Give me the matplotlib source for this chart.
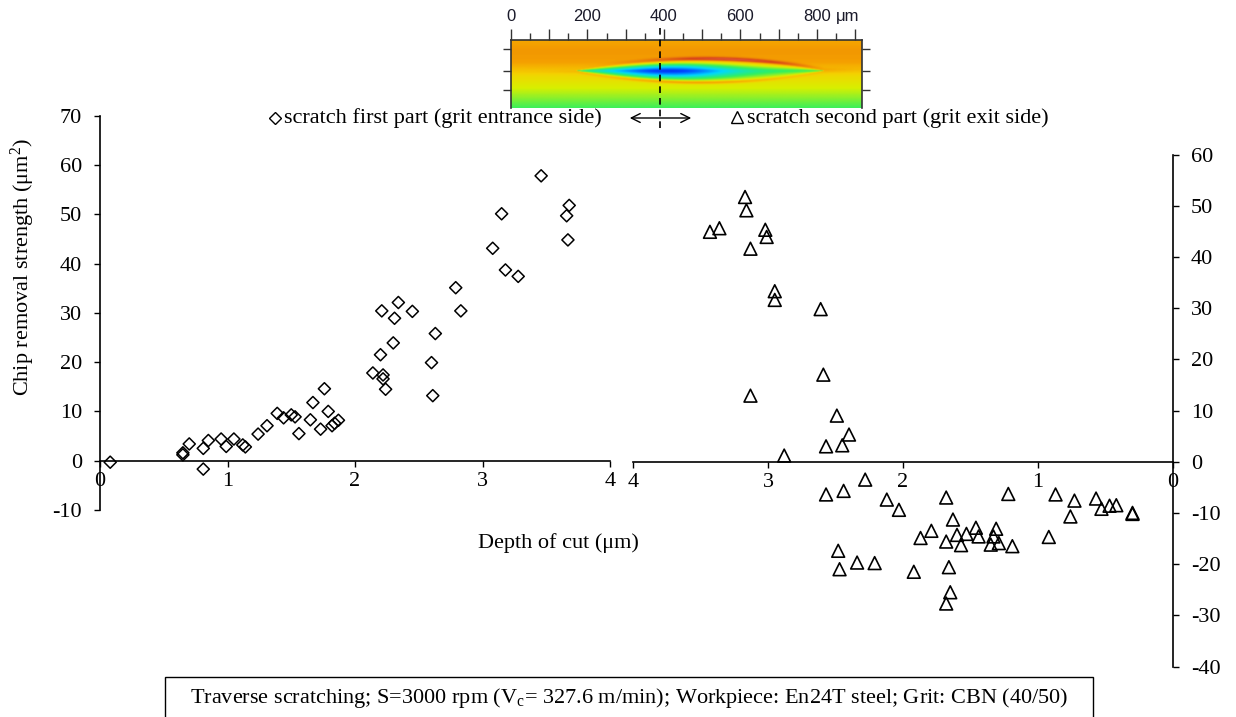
import numpy as np
import matplotlib
matplotlib.use("Agg")
import matplotlib.pyplot as plt
from matplotlib.lines import Line2D
from matplotlib.patches import Rectangle, FancyArrowPatch
from matplotlib.colors import LinearSegmentedColormap

# ---------------- data ----------------
first_depth = [0.08, 0.65, 0.65, 0.70, 0.81, 0.81, 0.85, 0.95, 0.99, 1.05, 1.12, 1.14,
               1.24, 1.31, 1.39, 1.44, 1.50, 1.53, 1.56, 1.65, 1.67, 1.73, 1.76, 1.79,
               1.82, 1.84, 1.87, 2.14, 2.20, 2.22, 2.22, 2.24, 2.21, 2.34, 2.31, 2.45,
               2.30, 2.63, 2.60, 2.61, 2.79, 2.83, 3.08, 3.15, 3.18, 3.28, 3.46, 3.68,
               3.66, 3.67]
first_strength = [-0.3, 1.6, 1.2, 3.4, 2.5, -1.7, 4.1, 4.4, 2.9, 4.4, 3.2, 2.8,
                  5.4, 7.1, 9.6, 8.7, 9.3, 8.9, 5.5, 8.3, 11.8, 6.4, 14.6, 10.0,
                  7.1, 7.6, 8.2, 17.8, 21.5, 17.4, 16.6, 14.5, 30.4, 32.1, 28.9, 30.3,
                  23.9, 25.8, 19.9, 13.2, 35.1, 30.4, 43.1, 50.1, 38.7, 37.4, 57.8, 51.8,
                  49.7, 44.8]

second_depth = [3.17, 3.16, 3.43, 3.36, 3.02, 3.01, 3.13, 2.95, 2.95, 2.61, 2.59, 3.13,
                2.49, 2.40, 2.57, 2.45, 2.88, 2.28, 2.57, 2.44, 2.12, 2.03, 1.68, 1.22,
                1.63, 1.79, 1.87, 1.68, 1.60, 1.53, 1.57, 1.46, 1.44, 1.35, 1.33, 1.31,
                1.29, 1.19, 0.92, 0.87, 2.48, 2.47, 2.34, 2.21, 1.92, 1.66, 1.65, 1.68,
                0.73, 0.76, 0.57, 0.53, 0.47, 0.42, 0.30, 0.30]
second_strength = [51.7, 49.1, 44.9, 45.6, 45.3, 43.9, 41.6, 33.3, 31.6, 29.8, 17.0, 12.9,
                   9.0, 5.3, 3.0, 3.2, 1.2, -3.5, -6.4, -5.7, -7.4, -9.4, -7.0, -6.3,
                   -11.3, -13.5, -14.9, -15.6, -14.3, -14.1, -16.3, -12.9, -14.6, -16.2, -14.6, -13.1,
                   -15.9, -16.5, -14.7, -6.4, -17.4, -21.0, -19.7, -19.8, -21.5, -20.6, -25.5, -27.7,
                   -7.6, -10.7, -7.2, -9.2, -8.6, -8.5, -10.0, -10.2]

left_xticks = [0, 1, 2, 3, 4]
left_yticks = [-10, 0, 10, 20, 30, 40, 50, 60, 70]
right_xticks = [4, 3, 2, 1, 0]
right_yticks = [-40, -30, -20, -10, 0, 10, 20, 30, 40, 50, 60]
inset_labels = [0, 200, 400, 600, 800]

# ---------------- style ----------------
plt.rcParams['font.family'] = ['Liberation Serif', 'DejaVu Serif']
plt.rcParams['axes.unicode_minus'] = False
plt.rcParams['mathtext.fontset'] = 'custom'
plt.rcParams['mathtext.rm'] = 'Liberation Serif'
plt.rcParams['mathtext.it'] = 'Liberation Serif:italic'
FS = 16

W, H = 1236, 717
fig = plt.figure(figsize=(W / 100, H / 100), dpi=100)

def fx(px):
    return px / W

def fy(py):
    return 1 - py / H

# ---------------- left axes ----------------
ax1 = fig.add_axes([fx(100), fy(510), fx(510), (510 - 115.7) / H])
ax1.scatter(first_depth, first_strength, marker='D', s=38, facecolors='none',
            edgecolors='black', linewidths=1.1, zorder=3)
ax1.set_xlim(0, 4)
ax1.set_ylim(-10, 70)
ax1.set_xticks(left_xticks)
ax1.set_yticks(left_yticks)
for s in ['top', 'right']:
    ax1.spines[s].set_visible(False)
ax1.spines['bottom'].set_position(('data', 0))
ax1.spines['left'].set_linewidth(1.2)
ax1.spines['bottom'].set_linewidth(1.2)
ax1.tick_params(axis='both', direction='out', length=4, width=1.0, labelsize=FS)
ax1.tick_params(axis='y', pad=9)
ax1.tick_params(axis='x', pad=4)
ax1.set_facecolor('none')

# ---------------- right axes ----------------
ax2 = fig.add_axes([fx(633), fy(666.5), fx(540), 512 / H])
ax2.scatter(second_depth, second_strength, marker='^', s=85, facecolors='none',
            edgecolors='black', linewidths=1.2, zorder=3)
ax2.set_xlim(4, 0)
ax2.set_ylim(-40, 60)
ax2.set_xticks(right_xticks)
ax2.set_yticks(right_yticks)
for s in ['top', 'left']:
    ax2.spines[s].set_visible(False)
ax2.spines['bottom'].set_position(('data', 0))
ax2.spines['right'].set_linewidth(1.2)
ax2.spines['bottom'].set_linewidth(1.2)
ax2.yaxis.tick_right()
ax2.tick_params(axis='both', direction='out', length=4, width=1.0, labelsize=FS)
ax2.tick_params(axis='y', pad=9)
ax2.tick_params(axis='x', pad=4)
ax2.set_facecolor('none')

# ---------------- labels ----------------
fig.text(fx(23), fy(267), 'Chip removal strength (μm$^2$)', rotation=90,
         ha='center', va='center', fontsize=FS)
fig.text(fx(558), fy(543), 'Depth of cut (μm)', ha='center', va='center', fontsize=FS)

# legend-like line
fig.add_artist(Line2D([fx(275)], [fy(118)], marker='D', ms=6, mfc='none', mec='black',
                      mew=1.0, transform=fig.transFigure))
fig.text(fx(284), fy(118), 'scratch first part (grit entrance side)', ha='left',
         va='center', fontsize=FS)
fig.add_artist(Line2D([fx(737)], [fy(117)], marker='^', ms=8, mfc='none', mec='black',
                      mew=1.0, transform=fig.transFigure))
fig.text(fx(747), fy(118), 'scratch second part (grit exit side)', ha='left',
         va='center', fontsize=FS)
fig.add_artist(FancyArrowPatch(
    (fx(627), fy(118)), (fx(694), fy(118)), transform=fig.transFigure,
    arrowstyle='<->', mutation_scale=16, lw=1.0, color='black'))

# ---------------- inset image ----------------
cmap = LinearSegmentedColormap.from_list('profile', [
    (0.00, '#00008a'), (0.15, '#0040ff'), (0.30, '#00d8ff'), (0.45, '#30f060'),
    (0.58, '#d8f000'), (0.66, '#f5d000'), (0.74, '#f5a000'), (0.86, '#d84018'),
    (1.00, '#f08a80')])
ax3 = fig.add_axes([fx(511), fy(108), fx(351), 68 / H])
nx, ny = 460, 90
xs = np.linspace(0, 918, nx)
ys = np.linspace(0, 68, ny)
X, Y = np.meshgrid(xs, ys)
bg = np.interp(Y, [0, 10, 22, 29, 36, 48, 58, 68],
               [0.73, 0.75, 0.74, 0.69, 0.64, 0.58, 0.52, 0.46])
xc, a, yc = 495, 325, 30.7
u = np.clip((X - xc) / a, -1, 1)
h = 11.0 * np.clip(1 - u ** 2, 0, None) ** 0.9 + 1e-6
dy = Y - yc
inside = np.clip(1 - (np.abs(dy) / h) ** 1.3, 0, None)
core = np.exp(-((X - 410) / 170) ** 2)
img = bg - 0.55 * inside * (0.40 + 0.60 * core)
rim_up = 0.16 * np.exp(-((dy + h + 1.2) / 1.8) ** 2) * np.exp(-((X - 580) / 200) ** 2)
rim_lo = 0.13 * np.exp(-((dy - h - 1.0) / 1.5) ** 2) * np.exp(-((X - 480) / 240) ** 2)
img = img + (rim_up + rim_lo) * (1 - inside)
ax3.imshow(img, cmap=cmap, vmin=0, vmax=1, extent=[0, 918, 68, 0], aspect='auto',
           interpolation='bicubic')
ax3.set_xlim(0, 918)
ax3.set_ylim(68, 0)
ax3.xaxis.tick_top()
ax3.set_xticks(np.arange(0, 901, 100))
ax3.set_xticks(np.arange(50, 901, 100), minor=True)
ax3.set_xticklabels([])
ax3.set_yticks([9.3, 30.7, 50])
ax3.set_yticklabels([])
ax3.tick_params(axis='x', which='major', direction='out', length=8, width=1.0, color='#333')
ax3.tick_params(axis='x', which='minor', direction='out', length=5, width=1.0, color='#333')
ax3.tick_params(axis='y', direction='out', length=6, width=1.0, color='#333',
                left=True, right=True)
ax3.spines['bottom'].set_visible(False)
for s in ['top', 'left', 'right']:
    ax3.spines[s].set_color('#333')
    ax3.spines[s].set_linewidth(1.2)
tr = ax3.get_xaxis_transform()
for v in inset_labels:
    ax3.text(v, 1.35, str(v), transform=tr, ha='center', va='center',
             fontsize=12, family='Liberation Sans', color='#1a1a2a')
ax3.text(850, 1.35, 'μm', transform=tr, ha='left', va='center', fontsize=12,
         family='Liberation Sans', color='#1a1a2a')

# dashed centre line
fig.add_artist(Line2D([fx(660), fx(660)], [fy(28), fy(132)], ls=(0, (4, 3)), lw=1.2,
                      color='black', transform=fig.transFigure))

# ---------------- bottom box ----------------
fig.add_artist(Rectangle((fx(165), fy(720)), fx(1093 - 165), (720 - 677) / H,
                         transform=fig.transFigure, fill=False, lw=1.0, ec='black'))
fig.text(fx(629), fy(698),
         'Traverse scratching; S=3000 rpm (V$_\\mathrm{c}$= 327.6 m/min); Workpiece: En24T steel; Grit: CBN (40/50)',
         ha='center', va='center', fontsize=FS)

fig.savefig('out.png', dpi=100)
